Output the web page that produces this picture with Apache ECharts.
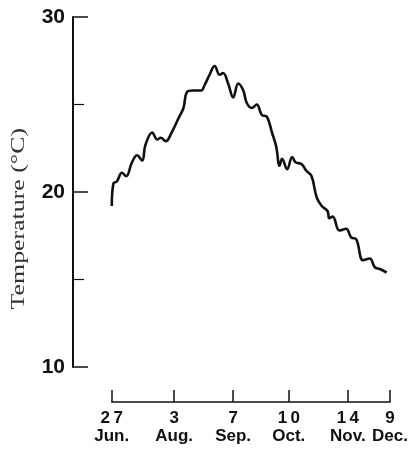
<!DOCTYPE html>
<html>
<head>
<meta charset="utf-8">
<script src="https://cdn.jsdelivr.net/npm/echarts@6/dist/echarts.min.js"></script>
<style>
  html, body { margin: 0; padding: 0; background: #fff; }
  #chart { width: 418px; height: 449px; }
</style>
</head>
<body>
<div id="chart"></div>
<script>
// days counted from 27 Jun.
const days = [0, 1, 3, 6, 8.5, 12, 15, 18, 20, 24, 27, 29, 32, 35.5, 39.5, 42.5, 44.5, 48, 53, 55, 58, 61, 64, 66, 69, 72, 75, 78, 80, 83, 86, 89, 92, 95, 97.5, 99.5, 101, 104, 107, 109, 112.5, 115.5, 118.5, 121.5, 124.5, 128, 129, 131, 135, 139, 142, 145, 149, 153, 156, 159, 163];
const temps = [19.2, 20.5, 20.6, 21.1, 20.9, 21.7, 22.1, 21.8, 22.7, 23.4, 23.0, 23.1, 22.9, 23.4, 24.2, 24.8, 25.7, 25.8, 25.8, 26.1, 26.7, 27.2, 26.7, 26.8, 26.2, 25.4, 26.2, 25.8, 25.1, 24.8, 25.0, 24.4, 24.3, 23.4, 22.6, 21.5, 21.9, 21.3, 22.0, 21.7, 21.6, 21.2, 20.9, 19.7, 19.2, 18.9, 18.5, 18.6, 17.8, 17.9, 17.4, 17.3, 16.1, 16.2, 15.7, 15.6, 15.4];
const tickDays = [0, 37, 72, 105, 140, 165];
const tickDates = ['27', '3', '7', '10', '14', '9'];
const tickMonths = ['Jun.', 'Aug.', 'Sep.', 'Oct.', 'Nov.', 'Dec.'];

const chart = echarts.init(document.getElementById('chart'), null, { renderer: 'canvas' });

const option = {
  backgroundColor: '#fff',
  animation: false,
  grid: [
    { left: 73, right: 28, top: 17, bottom: 82 },
    { left: 111.7, right: 28, top: 17, bottom: 47 }
  ],
  xAxis: [
    { type: 'value', gridIndex: 0, min: -23, max: 165, show: false },
    {
      type: 'value', gridIndex: 1, min: 0, max: 165,
      axisLine: { show: true, lineStyle: { color: '#111', width: 1.5 } },
      axisTick: {
        show: true, inside: true, length: 12,
        customValues: tickDays,
        lineStyle: { color: '#111', width: 1.5 }
      },
      axisLabel: {
        customValues: tickDays,
        margin: 7,
        color: '#111',
        fontFamily: 'Liberation Sans',
        fontWeight: 'bold',
        fontSize: 17,
        lineHeight: 18,
        formatter: function (v) {
          const i = tickDays.indexOf(v);
          if (i < 0) return '';
          return tickDates[i].split('').join('\u2009') + '\n' + tickMonths[i];
        }
      },
      splitLine: { show: false }
    }
  ],
  yAxis: [
    {
      type: 'value', gridIndex: 0, min: 10, max: 30, interval: 10,
      axisLine: { show: true, onZero: false, lineStyle: { color: '#111', width: 2 } },
      axisTick: { show: true, inside: true, length: 15, lineStyle: { color: '#111', width: 1.5 } },
      minorTick: { show: true, splitNumber: 2, length: 11, lineStyle: { color: '#111', width: 1.2 } },
      axisLabel: {
        margin: 8,
        color: '#111',
        fontFamily: 'Liberation Sans',
        fontWeight: 'bold',
        fontSize: 21
      },
      splitLine: { show: false }
    },
    { type: 'value', gridIndex: 1, show: false }
  ],
  graphic: [
    {
      type: 'text',
      left: 10,
      top: 128,
      rotation: Math.PI / 2,
      scaleX: 1.36,
      style: {
        text: 'Temperature (°C)',
        fill: '#333',
        font: '19px "Liberation Serif"'
      }
    }
  ],
  series: [
    {
      type: 'line',
      xAxisIndex: 0,
      yAxisIndex: 0,
      data: days.map((d, i) => [d, temps[i]]),
      smooth: 0.4,
      showSymbol: false,
      lineStyle: { color: '#111', width: 2.6 }
    }
  ]
};

chart.setOption(option);
</script>
</body>
</html>
